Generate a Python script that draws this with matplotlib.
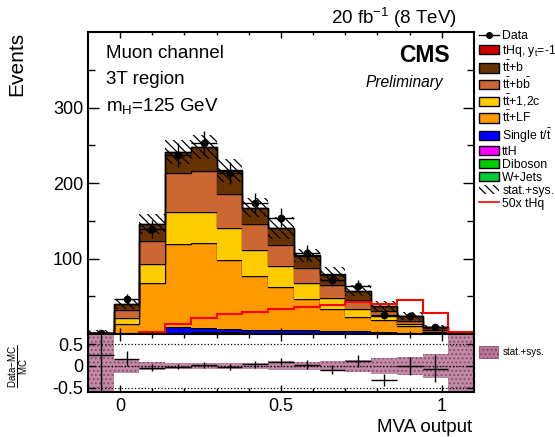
import matplotlib
matplotlib.use("Agg")
import matplotlib.pyplot as plt
import numpy as np
from matplotlib.patches import Patch
from matplotlib.lines import Line2D

plt.rcParams['font.family'] = ['Liberation Sans', 'DejaVu Sans']
plt.rcParams['mathtext.fontset'] = 'custom'
plt.rcParams['mathtext.rm'] = 'Liberation Sans'
plt.rcParams['mathtext.it'] = 'Liberation Sans:italic'
plt.rcParams['mathtext.bf'] = 'Liberation Sans:bold'
plt.rcParams['hatch.linewidth'] = 0.9

# MVA output binning (15 bins)
edges = np.linspace(-0.1, 1.1, 16)

# stacked backgrounds, bottom to top (events per bin)
wjets   = [0, 0, 0, 0.5, 0.5, 0.3, 0.3, 0.2, 0.2, 0.1, 0.1, 0.1, 0, 0, 0]
diboson = [0, 0, 0, 0.3, 0.2, 0.2, 0.1, 0.1, 0.1, 0.1, 0, 0, 0, 0, 0]
tth     = [0, 0.2, 0.5, 1.0, 1.5, 1.5, 1.5, 1.5, 1.2, 1.0, 0.8, 0.6, 0.5, 0.2, 0]
single_t = [0, 0.5, 1.5, 7, 6, 4.5, 3.5, 4, 3.5, 3, 2.5, 1.5, 1, 0.5, 0]
tt_lf   = [0.8, 13.0, 65.7, 109.8, 111.8, 91.5, 71.6, 56.6, 41, 28.6, 19.2, 16, 8.7, 1.3, 0]
tt_c    = [0, 7.1, 24.8, 43.4, 42, 42, 34.5, 27.4, 21.3, 14.6, 10.2, 5.7, 3.5, 1.0, 0]
tt_bb   = [0, 11.1, 30.5, 51, 53.5, 45.5, 34.1, 28.2, 20.7, 17.6, 11.9, 6.6, 3.6, 2.0, 0]
tt_b    = [0, 7.5, 22.6, 28, 32.1, 30.9, 21.2, 22, 15.6, 13.4, 12, 6.3, 6.2, 4.3, 0]
thq_yt  = [0, 0, 0.1, 0.3, 0.4, 0.5, 0.5, 0.5, 0.5, 0.5, 0.5, 0.5, 0.5, 0.4, 0]

thq_50x = [0, 0.3, 3, 13, 21, 26, 29, 33, 36, 39, 42, 40, 45, 28, 2]
data    = [1, 46, 139, 237, 253, 213, 173, 154, 107, 72, 63, 25, 24, 9, 0]
# relative stat.+sys. uncertainty of the MC sum
rel_unc = [5, 0.16, 0.09, 0.065, 0.065, 0.07, 0.075, 0.1, 0.085, 0.12, 0.13, 0.18, 0.2, 0.28, 5]

components = [
    (wjets, '#00cc33', 'W+Jets'),
    (diboson, '#00cc00', 'Diboson'),
    (tth, '#ff00ff', 'ttH'),
    (single_t, '#0000ff', r'Single t/$\bar{\mathrm{t}}$'),
    (tt_lf, '#ff9900', r'$\mathrm{t\bar{t}}$+LF'),
    (tt_c, '#ffcc00', r'$\mathrm{t\bar{t}}$+1,2c'),
    (tt_bb, '#cc6633', r'$\mathrm{t\bar{t}}$+b$\bar{\mathrm{b}}$'),
    (tt_b, '#663300', r'$\mathrm{t\bar{t}}$+b'),
    (thq_yt, '#cc0000', r'tHq, y$_\mathrm{t}$=-1'),
]

W, H = 555, 437
fig = plt.figure(figsize=(W / 100, H / 100), dpi=100)
ax = fig.add_axes([88 / W, 1 - 334 / H, 386 / W, 302 / H])
rax = fig.add_axes([88 / W, 1 - 392 / H, 386 / W, 58 / H], sharex=ax)

centers = 0.5 * (edges[:-1] + edges[1:])
bottom = np.zeros(len(centers))
for vals, col, lab in components:
    vals = np.array(vals, dtype=float)
    ax.stairs(bottom + vals, edges, baseline=bottom, fill=True, color=col)
    ax.stairs(bottom + vals, edges, baseline=None, color='black', lw=1.0)
    bottom = bottom + vals
mc = bottom
rel = np.array(rel_unc)

# stat+sys hatch on the stack
ax.stairs(mc * (1 + rel), edges, baseline=mc * (1 - rel), fill=True,
          facecolor='none', edgecolor='black', hatch='\\\\\\\\', lw=0)

ax.stairs(thq_50x, edges, baseline=None, color='red', lw=1.5)

d = np.array(data, dtype=float)
m = d > 0
ax.errorbar(centers[m], d[m], yerr=np.sqrt(d[m]), xerr=0.04, fmt='o', color='black',
            ms=4.5, lw=1.0, capsize=0, zorder=5)

ax.set_xlim(-0.1, 1.1)
ax.set_ylim(0, 400)
ax.set_yticks([100, 200, 300])
ax.set_yticks([50, 150, 250, 350], minor=True)
ax.tick_params(axis='x', labelbottom=False)

# ratio pad
rax.stairs(rel, edges, baseline=-rel, fill=True, facecolor='#b57896',
           edgecolor='#8a3f66', hatch='....', lw=0, alpha=0.85)
ok = mc > 0
ratio = (d[ok] - mc[ok]) / mc[ok]
rerr = np.sqrt(d[ok]) / mc[ok]
rax.errorbar(centers[ok], ratio, yerr=rerr, xerr=0.04, fmt='none', ecolor='black', lw=1.0)
for yv in (0.5, 0, -0.5):
    rax.axhline(yv, color='black', ls=':', lw=0.9)
rax.set_ylim(-0.6, 0.73)
rax.set_yticks([-0.5, 0, 0.5])
rax.set_yticklabels(['-0.5', '0', '0.5'])
rax.set_xticks([0, 0.5, 1])
rax.set_xticklabels(['0', '0.5', '1'])
rax.set_xticks(np.arange(0.1, 1.1, 0.1), minor=True)

for a in (ax, rax):
    for s in a.spines.values():
        s.set_linewidth(1.5)
    a.tick_params(which='both', direction='in', top=True, right=True, labelsize=13, width=1.0)
ax.tick_params(axis='y', which='major', length=8)
ax.tick_params(axis='y', which='minor', length=5)
ax.tick_params(axis='x', which='major', length=4)
ax.tick_params(axis='x', which='minor', length=2.5)
rax.tick_params(which='major', length=5)
rax.tick_params(which='minor', length=3)
rax.tick_params(axis='x', pad=4)

def px(x, y):
    return x / W, 1 - y / H

fig.text(*px(17, 32), 'Events', rotation=90, ha='center', va='top', fontsize=15)
fig.text(*px(472, 427), 'MVA output', ha='right', va='center', fontsize=13.5)
fig.text(*px(19, 366), r'$\frac{\mathrm{Data\!-\!MC}}{\mathrm{MC}}$', rotation=90,
         ha='center', va='center', fontsize=10)

fig.text(*px(106, 53), 'Muon channel', va='center', fontsize=13.5)
fig.text(*px(106, 79), '3T region', va='center', fontsize=13.5)
fig.text(*px(106, 106), r'm$_\mathrm{H}$=125 GeV', va='center', fontsize=13.5)
fig.text(*px(450, 56), 'CMS', ha='right', va='center', fontsize=16.5, fontweight='bold')
fig.text(*px(443, 82), 'Preliminary', ha='right', va='center', fontsize=11.2, style='italic')
fig.text(*px(457, 18), r'20 fb$^{-1}$ (8 TeV)', ha='right', va='center', fontsize=13.5)

# legend
handles = [Line2D([0], [0], color='black', marker='o', ms=4, lw=1.0)]
labels = ['Data']
for vals, col, lab in components[::-1]:
    handles.append(Patch(facecolor=col, edgecolor='black', lw=1.0))
    labels.append(lab)
handles.append(Patch(facecolor='white', edgecolor='black', hatch='\\\\\\\\', lw=0))
labels.append('stat.+sys.')
handles.append(Line2D([0], [0], color='red', lw=1.2))
labels.append('50x tHq')
fig.legend(handles, labels, loc='upper left', bbox_to_anchor=px(479, 30), frameon=False,
           fontsize=8.8, handlelength=1.6, handleheight=0.8, labelspacing=0.08,
           handletextpad=0.3, borderpad=0, borderaxespad=0)

fig.legend([Patch(facecolor='#b57896', edgecolor='#8a3f66', hatch='....', lw=0.5)],
           ['stat.+sys.'], loc='center left', bbox_to_anchor=px(479, 352), frameon=False,
           fontsize=7, handlelength=2.0, handleheight=1.4, handletextpad=0.4,
           borderpad=0, borderaxespad=0)

fig.savefig('out.png', dpi=100)
